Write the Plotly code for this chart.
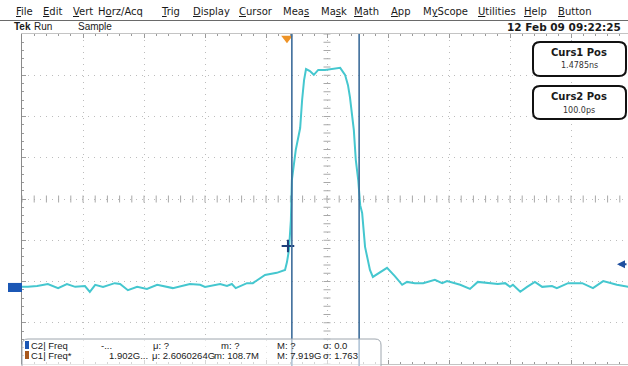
import plotly.graph_objects as go

# ---------------- data ----------------
time_ns = [-5.43, -5.31, -5.12, -4.90, -4.69, -4.51, -4.34, -4.14, -4.04, -3.93,
           -3.77, -3.53, -3.42, -3.26, -3.07, -2.87, -2.66, -2.46, -2.34, -1.99,
           -1.78, -1.68, -1.37, -1.23, -1.13, -1.05, -0.82, -0.70, -0.45, -0.21,
           -0.04, 0.00, 0.04, 0.08, 0.10, 0.18, 0.27, 0.31, 0.35, 0.39,
           0.47, 0.55, 0.64, 0.78, 0.94, 1.09, 1.19, 1.25, 1.29, 1.33,
           1.37, 1.41, 1.46, 1.50, 1.54, 1.60, 1.70, 1.76, 1.91, 2.05,
           2.21, 2.36, 2.46, 2.62, 2.79, 3.03, 3.18, 3.28, 3.55, 3.75,
           3.91, 4.16, 4.32, 4.47, 4.57, 4.63, 4.78, 4.92, 5.08, 5.23,
           5.43, 5.53, 5.76, 6.05, 6.27, 6.48, 6.76, 6.99]
ch1_div = [-2.13, -2.13, -2.11, -2.06, -2.16, -2.06, -2.13, -2.11, -2.25, -2.08,
           -2.13, -2.04, -2.06, -2.21, -2.13, -2.18, -2.08, -2.13, -2.16, -2.06,
           -2.08, -2.13, -2.06, -2.11, -2.06, -2.16, -2.04, -2.04, -1.84, -1.79,
           -1.72, -1.53, -1.24, -0.51, 0.46, 1.19, 1.72, 2.40, 2.88, 3.15,
           3.10, 3.01, 3.13, 3.13, 3.15, 3.18, 3.01, 2.76, 2.47, 2.11,
           1.67, 0.95, 0.46, -0.15, -0.34, -1.16, -1.72, -1.89, -1.77, -1.67,
           -1.87, -2.08, -2.01, -2.04, -2.04, -1.96, -2.04, -1.99, -2.08, -2.18,
           -2.01, -2.04, -2.06, -2.04, -2.13, -2.08, -2.25, -2.13, -2.01, -2.13,
           -2.11, -2.16, -2.04, -2.04, -2.16, -1.99, -2.08, -2.13]

cursor_titles = ["Curs1 Pos", "Curs2 Pos"]
cursor_labels = ["1.4785ns", "100.0ps"]
cursor_times_ns = [1.4785, 0.100]
trigger_time_ns = [0.0]
trigger_level_div = -1.58
c2_ground_div = -2.145
cursor_mark_t = [0.02]
cursor_mark_v = [-1.14]

menu_items = ["File", "Edit", "Vert", "Horz/Acq", "Trig", "Display", "Cursor", "Meas",
              "Mask", "Math", "App", "MyScope", "Utilities", "Help", "Button"]
menu_hotkey = [0, 0, 0, 1, 0, 0, 0, 3, 2, 0, 0, 1, 0, 0, 0]
status_items = ["<b>Tek</b>", "Run", "Sample"]
date_text = "12 Feb 09 09:22:25"

meas_row1 = ["C2| Freq", "-...", "\u03bc: ?", "m: ?", "M: ?", "\u03c3: 0.0"]
meas_row2 = ["C1| Freq*", "1.902G...", "\u03bc: 2.6060264G", "m: 108.7M", "M: 7.919G", "\u03c3: 1.763"]

# ---------------- layout geometry ----------------
W, H = 628, 366
L, T = 22, 34
PW, PH = 606, 330
NS_PER_DIV = 1.25
PX_PER_NS = 48.8
T_LEFT = -5.43
T_RIGHT = T_LEFT + PW / PX_PER_NS
T_CENTER = T_LEFT + 5 * NS_PER_DIV

menu_x = [15, 42, 72, 97, 160, 192, 238, 282, 320, 353, 390, 422, 477, 523, 557]
status_x = [13, 33, 77]
meas_x1 = [30, 100, 152, 220, 276, 322]
meas_x2 = [30, 108, 151, 213, 276, 322]
FONT = "DejaVu Sans"
FONT2 = "Liberation Sans"


def px(x):
    return (x - L) / PW


def py(y):
    return (T + PH - y) / PH


def rrect(x0, y0, x1, y1, r):
    rx, ry = r / PW, r / PH
    X0, X1, Yt, Yb = px(x0), px(x1), py(y0), py(y1)
    return (f"M {X0+rx},{Yt} L {X1-rx},{Yt} Q {X1},{Yt} {X1},{Yt-ry} "
            f"L {X1},{Yb+ry} Q {X1},{Yb} {X1-rx},{Yb} L {X0+rx},{Yb} "
            f"Q {X0},{Yb} {X0},{Yb+ry} L {X0},{Yt-ry} Q {X0},{Yt} {X0+rx},{Yt} Z")


fig = go.Figure()

# center-line tick marks
minor_t = [T_LEFT + k * 0.25 for k in range(60) if T_LEFT + k * 0.25 <= T_RIGHT]
minor_v = [-4 + k * 0.2 for k in range(41)]
fig.add_trace(go.Scatter(x=minor_t, y=[0] * len(minor_t), mode="markers", hoverinfo="skip",
                         marker=dict(symbol="line-ns", size=5, line=dict(width=1, color="#a8a8a8"))))
fig.add_trace(go.Scatter(x=[T_CENTER] * len(minor_v), y=minor_v, mode="markers", hoverinfo="skip",
                         marker=dict(symbol="line-ew", size=5, line=dict(width=1, color="#a8a8a8"))))

# waveform
fig.add_trace(go.Scatter(x=time_ns, y=ch1_div, mode="lines",
                         line=dict(color="#45c7cf", width=2), hoverinfo="skip"))

# trigger position marker
fig.add_trace(go.Scatter(x=trigger_time_ns, y=[3.9], mode="markers", cliponaxis=False,
                         marker=dict(symbol="triangle-down", size=10, color="#ee9326"), hoverinfo="skip"))
# cursor cross mark
fig.add_trace(go.Scatter(x=cursor_mark_t, y=cursor_mark_v, mode="markers",
                         marker=dict(symbol="cross-thin", size=9, line=dict(width=2, color="#1d3f7a")),
                         hoverinfo="skip"))

shapes = []
for ct in cursor_times_ns:
    shapes.append(dict(type="line", xref="x", yref="paper", x0=ct, x1=ct, y0=py(366), y1=1,
                       line=dict(color="#3c6c9a", width=1.6), layer="above"))
shapes.append(dict(type="line", xref="paper", yref="paper", x0=px(0), x1=px(W), y0=py(20.5), y1=py(20.5),
                   line=dict(color="#6a6a6a", width=1)))
shapes.append(dict(type="rect", xref="paper", yref="y", x0=px(8), x1=px(22),
                   y0=c2_ground_div - 0.11, y1=c2_ground_div + 0.11,
                   fillcolor="#1b57b5", line=dict(width=0), layer="above"))
box_y = [(42, 76), (86, 119)]
for (y0, y1) in box_y:
    shapes.append(dict(type="path", xref="paper", yref="paper", path=rrect(533, y0, 626, y1, 7),
                       fillcolor="white", line=dict(color="#111111", width=2), layer="above"))
shapes.append(dict(type="path", xref="paper", yref="paper", path=rrect(22, 339, 381, 372, 6),
                   fillcolor="rgba(255,255,255,0.6)", line=dict(color="#9ea6ae", width=1), layer="above"))
shapes.append(dict(type="rect", xref="paper", yref="paper", x0=px(25), x1=px(29), y0=py(349), y1=py(341),
                   fillcolor="#1b57b5", line=dict(width=0), layer="above"))
shapes.append(dict(type="rect", xref="paper", yref="paper", x0=px(25), x1=px(29), y0=py(359), y1=py(351),
                   fillcolor="#a8581c", line=dict(width=0), layer="above"))

ann = []


def txt(x, y, s, size=11, color="#1a1a1a", anchor="left", family=FONT):
    ann.append(dict(xref="paper", yref="paper", x=px(x), y=py(y), text=s, showarrow=False,
                    xanchor=anchor, yanchor="middle", xshift=-1,
                    font=dict(family=family, size=size, color=color)))


for name, hk, x in zip(menu_items, menu_hotkey, menu_x):
    s = name[:hk] + '<span style="text-decoration:underline">' + name[hk] + "</span>" + name[hk + 1:]
    txt(x, 11, s, size=10)
for s, x in zip(status_items, status_x):
    txt(x, 27, s, size=10, family=FONT2)
txt(506, 27, "<b>" + date_text + "</b>", size=10.5, family=FONT)

for (y0, y1), t1, t2 in zip(box_y, cursor_titles, cursor_labels):
    txt(580, y0 + 10, "<b>" + t1 + "</b>", size=10, anchor="center")
    txt(580, y0 + 24, t2, size=8, color="#333333", anchor="center")

for s, x in zip(meas_row1, meas_x1):
    txt(x, 345, s, size=9.5, family=FONT2)
for s, x in zip(meas_row2, meas_x2):
    txt(x, 355, s, size=9.5, family=FONT2)

ann.append(dict(xref="x", yref="y", x=T_LEFT + (617 - L) / PX_PER_NS, y=trigger_level_div, ax=11, ay=0,
                showarrow=True, arrowhead=2, arrowsize=0.8, arrowwidth=2, arrowcolor="#1f4f9f", text=""))

fig.update_layout(
    width=W, height=H, margin=dict(l=L, r=0, t=T, b=H - T - PH),
    paper_bgcolor="white", plot_bgcolor="white", showlegend=False,
    shapes=shapes, annotations=ann,
    xaxis=dict(range=[T_LEFT, T_RIGHT], tickmode="linear", tick0=T_LEFT, dtick=NS_PER_DIV,
               showticklabels=False, showgrid=True, gridcolor="#bcbcbc", griddash="1px,5px",
               zeroline=False, showline=True, linecolor="#c4c4c4", mirror="ticks",
               ticks="inside", ticklen=4, tickcolor="#9a9a9a",
               minor=dict(ticks="inside", ticklen=2, dtick=0.25, tick0=T_LEFT, tickcolor="#9a9a9a")),
    yaxis=dict(range=[-4, 4], tickmode="linear", tick0=0, dtick=1, showticklabels=False,
               showgrid=True, gridcolor="#bcbcbc", griddash="1px,5px", zeroline=False,
               showline=True, linecolor="#8a8a8a", ticks="inside", ticklen=4, tickcolor="#9a9a9a",
               minor=dict(ticks="inside", ticklen=2, dtick=0.2, tickcolor="#9a9a9a")),
)

fig.write_html("out.html")
